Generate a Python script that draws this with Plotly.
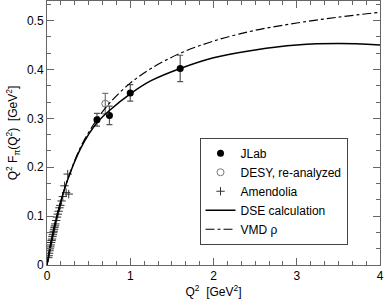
import plotly.graph_objects as go

# JLab data
jlab_q2 = [0.60, 0.75, 1.00, 1.60]
jlab_f = [0.297, 0.306, 0.352, 0.402]
jlab_err = [0.013, 0.019, 0.017, 0.027]

# DESY re-analyzed
desy_q2 = [0.70]
desy_f = [0.330]
desy_err = [0.021]

# Amendolia
amen_q2 = [0.015, 0.020, 0.025, 0.030, 0.035, 0.040, 0.045, 0.050, 0.055, 0.060,
           0.065, 0.070, 0.075, 0.080, 0.085, 0.090, 0.095, 0.100, 0.110, 0.120,
           0.130, 0.140, 0.150, 0.160, 0.175, 0.190, 0.210, 0.230, 0.249, 0.261]
amen_f = [0.015, 0.019, 0.024, 0.029, 0.033, 0.037, 0.041, 0.046, 0.050, 0.053,
          0.058, 0.062, 0.066, 0.069, 0.073, 0.077, 0.080, 0.084, 0.091, 0.098,
          0.104, 0.110, 0.117, 0.122, 0.131, 0.140, 0.162, 0.148, 0.186, 0.145]

# DSE calculation curve
dse_q2 = [0, 0.05, 0.10, 0.20, 0.30, 0.40, 0.50, 0.60, 0.75, 1.00, 1.25, 1.60,
          2.00, 2.50, 3.00, 3.50, 4.00]
dse_f = [0, 0.046, 0.086, 0.150, 0.198, 0.237, 0.267, 0.291, 0.316, 0.350, 0.377,
         0.402, 0.424, 0.440, 0.450, 0.453, 0.450]

# VMD rho curve
vmd_q2 = [0, 0.05, 0.10, 0.20, 0.30, 0.40, 0.50, 0.60, 0.75, 1.00, 1.25, 1.60,
          2.00, 2.50, 3.00, 3.50, 4.00]
vmd_f = [0, 0.046, 0.086, 0.150, 0.199, 0.240, 0.271, 0.298, 0.331, 0.372, 0.402,
         0.433, 0.458, 0.480, 0.495, 0.507, 0.517]

fig = go.Figure()
fig.add_trace(go.Scatter(x=jlab_q2, y=jlab_f, mode="markers", name="JLab",
                         marker=dict(symbol="circle", size=7, color="black"),
                         error_y=dict(type="data", array=jlab_err, color="#555555",
                                      thickness=1.2, width=3)))
fig.add_trace(go.Scatter(x=desy_q2, y=desy_f, mode="markers", name="DESY, re-analyzed",
                         marker=dict(symbol="circle-open", size=7, color="#777777",
                                     line=dict(width=1)),
                         error_y=dict(type="data", array=desy_err, color="#777777",
                                      thickness=1.2, width=3)))
fig.add_trace(go.Scatter(x=amen_q2, y=amen_f, mode="markers", name="Amendolia",
                         marker=dict(symbol="cross-thin", size=6, color="#333333",
                                     line=dict(width=1, color="#333333"))))
fig.add_trace(go.Scatter(x=dse_q2, y=dse_f, mode="lines", name="DSE calculation",
                         line=dict(color="black", width=1.5, shape="spline")))
fig.add_trace(go.Scatter(x=vmd_q2, y=vmd_f, mode="lines", name="VMD ρ",
                         line=dict(color="black", width=1.2, dash="dashdot",
                                   shape="spline")))

axis_common = dict(showline=True, linecolor="#666666", linewidth=1, mirror="ticks",
                   ticks="inside", ticklen=7, tickcolor="#666666", showgrid=False,
                   zeroline=False, tickfont=dict(size=12, color="black"))

fig.update_xaxes(range=[0, 4], dtick=1, **axis_common,
                 minor=dict(dtick=1/6, ticks="inside", ticklen=4, tickcolor="#666666"),
                 title=dict(text="Q<sup>2</sup>  [GeV<sup>2</sup>]", font=dict(size=12),
                            standoff=2))
fig.update_yaxes(range=[0, 0.54], dtick=0.1, **axis_common,
                 minor=dict(dtick=1/30, ticks="inside", ticklen=4, tickcolor="#666666"),
                 title=dict(text="Q<sup>2</sup> F<sub>π</sub>(Q<sup>2</sup>)  [GeV<sup>2</sup>]",
                            font=dict(size=12), standoff=6))

fig.update_layout(width=385, height=300,
                  margin=dict(l=47, r=5, t=1, b=35, autoexpand=False),
                  paper_bgcolor="white", plot_bgcolor="white",
                  font=dict(family="Liberation Sans, Arial, sans-serif", color="black"),
                  legend=dict(x=0.458, y=0.482, xanchor="left", yanchor="top",
                              bgcolor="white", bordercolor="#444444", borderwidth=1,
                              font=dict(size=12), tracegroupgap=0,
                              itemwidth=30),
                  showlegend=True)

fig.write_html("out.html", config={"displayModeBar": False},
               post_script="document.body.style.margin='0';document.body.style.overflow='hidden';")
